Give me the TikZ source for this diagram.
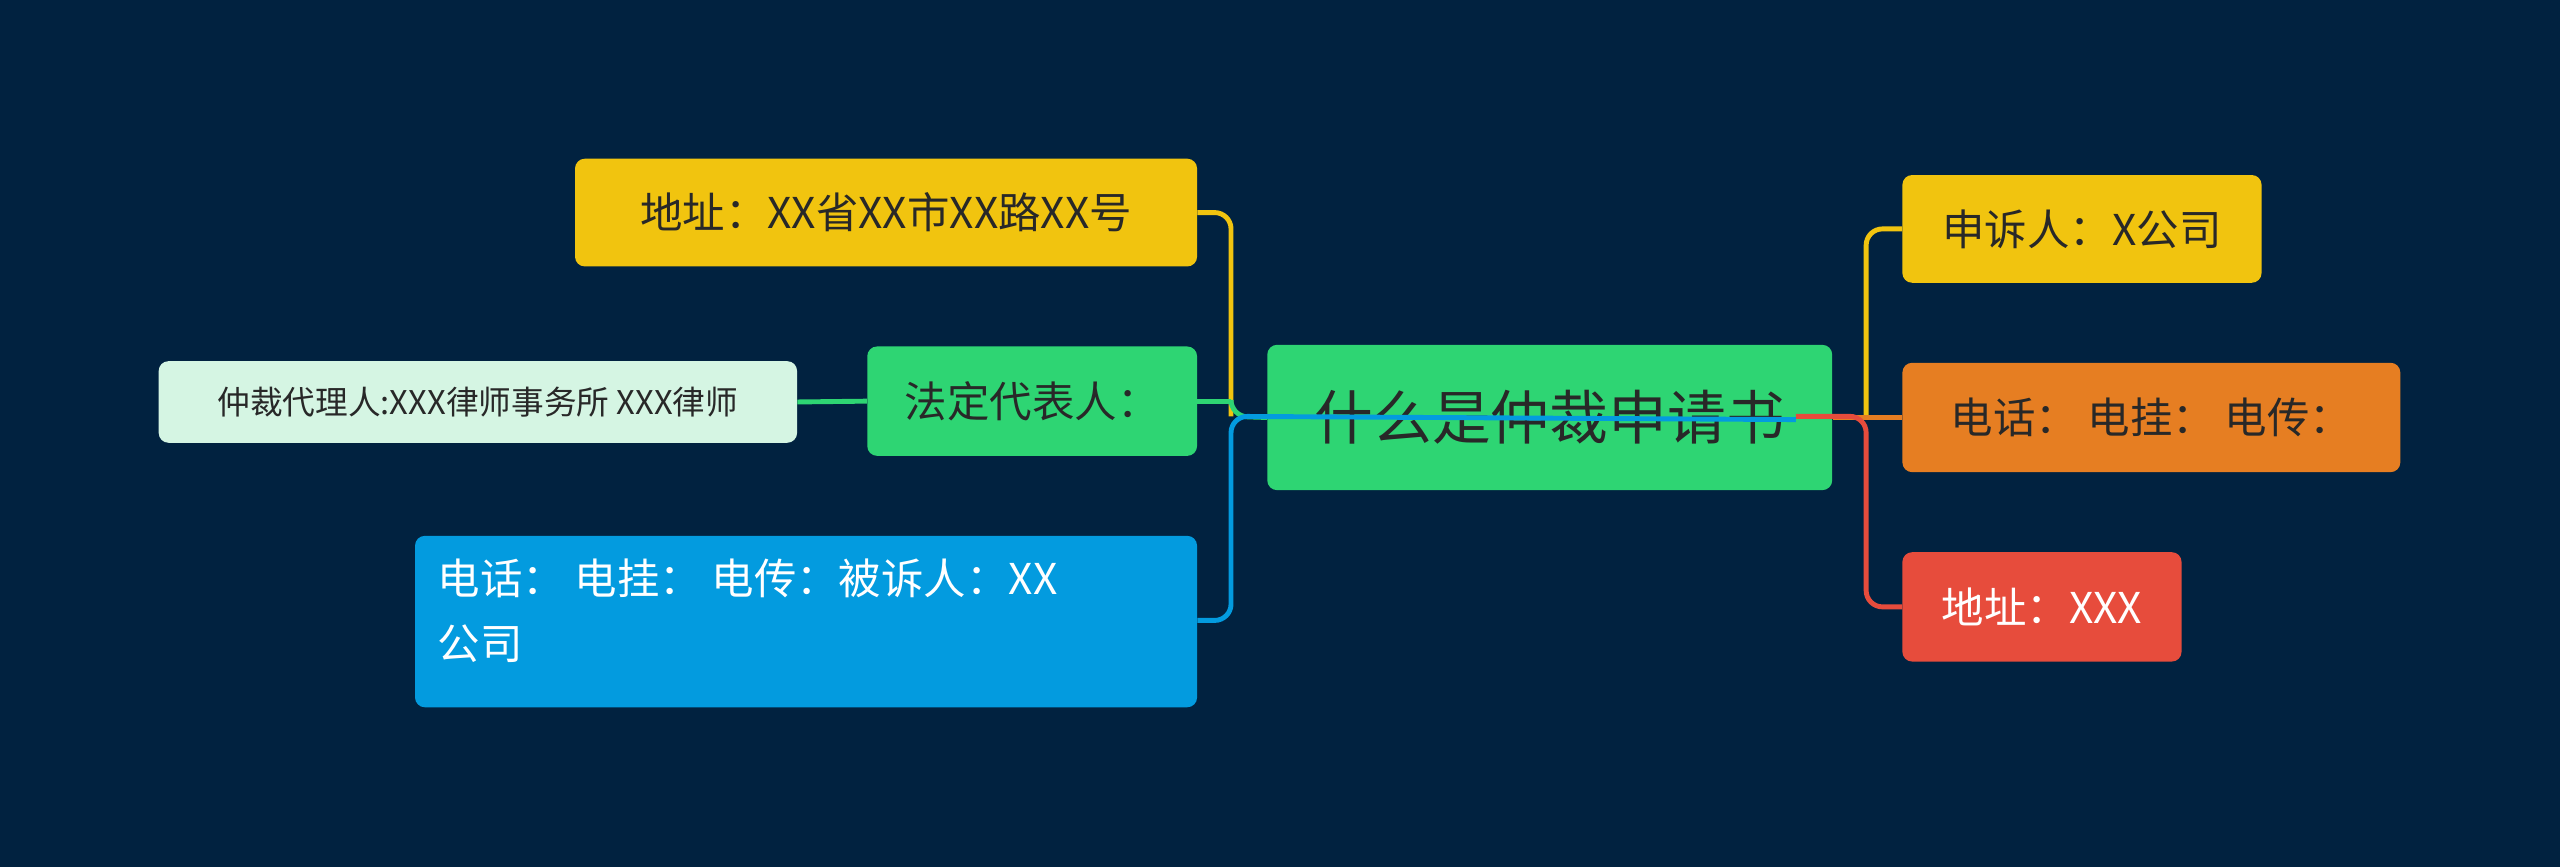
\documentclass[tikz,border=0pt]{standalone}
\usepackage{fontspec}
\setmainfont{Noto Sans CJK SC}
\definecolor{bg}{RGB}{1,34,64}
\definecolor{cgreen}{RGB}{46,213,115}
\definecolor{cyellow}{RGB}{241,196,15}
\definecolor{corange}{RGB}{230,126,34}
\definecolor{cred}{RGB}{231,76,60}
\definecolor{cblue}{RGB}{3,155,223}
\definecolor{clight}{RGB}{213,245,227}
\definecolor{ctext}{RGB}{40,40,40}
\begin{document}
\begin{tikzpicture}[x=1pt,y=-1pt,
  box/.style={rounded corners=6pt,anchor=north west,inner sep=0pt,font=\fontsize{26}{34}\selectfont,text=ctext},
  conn/.style={line width=3pt,rounded corners=10pt}]
\fill[bg] (0,0) rectangle (1568,531);
\useasboundingbox (0,0) rectangle (1568,531);
% center
\node[box,fill=cgreen,minimum width=346pt,minimum height=89pt,font=\fontsize{36}{40}\selectfont] (c) at (776,211) {什么是仲裁申请书};
% right
\node[box,fill=cyellow,minimum width=220pt,minimum height=66pt] (r1) at (1165,107) {申诉人：X公司};
\node[box,fill=corange,minimum width=305pt,minimum height=67pt] (r2) at (1165,222) {电话： 电挂： 电传：};
\node[box,fill=cred,minimum width=171pt,minimum height=67pt,text=white] (r3) at (1165,338) {地址：XXX};
% left
\node[box,fill=cyellow,minimum width=381pt,minimum height=66pt] (l1) at (352,97) {地址：XX省XX市XX路XX号};
\node[box,fill=cgreen,minimum width=202pt,minimum height=67pt] (l2) at (531,212) {法定代表人：};
\node[box,fill=clight,minimum width=391pt,minimum height=50pt,font=\fontsize{20}{24}\selectfont] (l3) at (97,221) {仲裁代理人:XXX律师事务所 XXX律师};
\node[box,fill=cblue,minimum width=479pt,minimum height=105pt,text=white] (l4) at (254,328) {};
\node[anchor=north west,inner sep=0pt,text=white,font=\fontsize{26}{40}\selectfont,align=left] (l4t) at (268,342) {电话： 电挂： 电传：被诉人：XX\\公司};
% coordinates
\coordinate (rb) at (1143,255);
\coordinate (lb) at (754,255);
\coordinate (rs) at (1100,255);
\coordinate (ls) at (1100,257);
% right connectors
\draw[conn,cyellow] (rb) |- (r1.west);
\draw[conn,corange] (c.east) -- (r2.west);
\draw[conn,cred] (rs) -- (rb) |- (r3.west);
% left connectors
\draw[conn,cyellow] (lb) |- (l1.east);
\draw[conn,cgreen] (lb |- l2.east) -- (l2.east);
\draw[conn,cgreen] (c.west) -- (lb) -- (lb |- l2.east);
\draw[conn,cblue] (ls) -- (lb) |- (l4.east |- 0,380);
\draw[conn,cgreen] (l3.east) -- (l2.west);
\end{tikzpicture}
\end{document}
